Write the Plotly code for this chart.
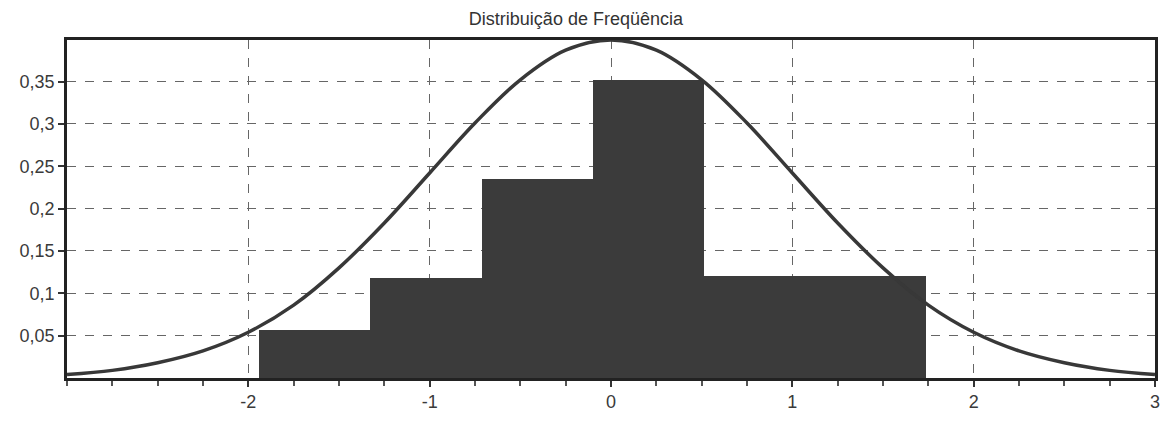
import plotly.graph_objects as go

# histogram bins (left edges, widths) and heights
bin_left = [-1.94, -1.327, -0.714, -0.101, 0.512, 1.125]
bin_width = [0.613, 0.613, 0.613, 0.613, 0.613, 0.613]
bin_height = [0.057, 0.118, 0.235, 0.352, 0.120, 0.120]

curve_x = [-3, -2.75, -2.5, -2.25, -2, -1.75, -1.5, -1.25, -1, -0.75, -0.5, -0.25, 0,
           0.25, 0.5, 0.75, 1, 1.25, 1.5, 1.75, 2, 2.25, 2.5, 2.75, 3]
curve_y = [0.004, 0.009, 0.018, 0.032, 0.054, 0.086, 0.130, 0.183, 0.242, 0.301, 0.352, 0.387, 0.399,
           0.387, 0.352, 0.301, 0.242, 0.183, 0.130, 0.086, 0.054, 0.032, 0.018, 0.009, 0.004]

x_ticks = [-2, -1, 0, 1, 2, 3]
x_labels = ["-2", "-1", "0", "1", "2", "3"]
y_ticks = [0.05, 0.1, 0.15, 0.2, 0.25, 0.3, 0.35]

fig = go.Figure()

fig.add_trace(go.Bar(
    x=bin_left, y=bin_height, width=bin_width, offset=0,
    marker=dict(color='#3b3b3b', line=dict(width=0)),
    showlegend=False, hoverinfo='skip'
))

fig.add_trace(go.Scatter(
    x=curve_x, y=curve_y, mode='lines',
    line=dict(color='#383838', width=3.5, shape='spline'),
    showlegend=False
))

# page body has an 8px margin, margins below allow for it
fig.update_layout(
    title=dict(text='Distribuição de Freqüência', x=0.485, xanchor='center',
               y=0.975, yanchor='middle',
               font=dict(family='Liberation Sans, Arial', size=18, color='#333')),
    separators=',.',
    bargap=0,
    width=1171, height=421,
    margin=dict(l=50, r=24, t=32, b=51),
    paper_bgcolor='white',
    plot_bgcolor='white',
    font=dict(family='Liberation Sans, Arial', size=18, color='#3a3a3a'),
    xaxis=dict(
        range=[-3, 3],
        tickvals=x_ticks, ticktext=x_labels,
        ticks='outside', ticklen=6, tickcolor='#333', tickwidth=1.5,
        minor=dict(dtick=0.25, tick0=0, ticks='outside', ticklen=5, tickcolor='#555', showgrid=False),
        showgrid=True, gridcolor='#666', griddash='dash', gridwidth=1,
        showline=True, linecolor='#222', linewidth=2.5, mirror=True,
        zeroline=False,
    ),
    yaxis=dict(
        range=[0, 0.399],
        tickvals=y_ticks,
        ticks='outside', ticklen=6, tickcolor='#333', tickwidth=1.5,
        showgrid=True, gridcolor='#666', griddash='dash', gridwidth=1,
        showline=True, linecolor='#222', linewidth=2.5, mirror=True,
        zeroline=False,
    ),
)

fig.write_html("out.html")
